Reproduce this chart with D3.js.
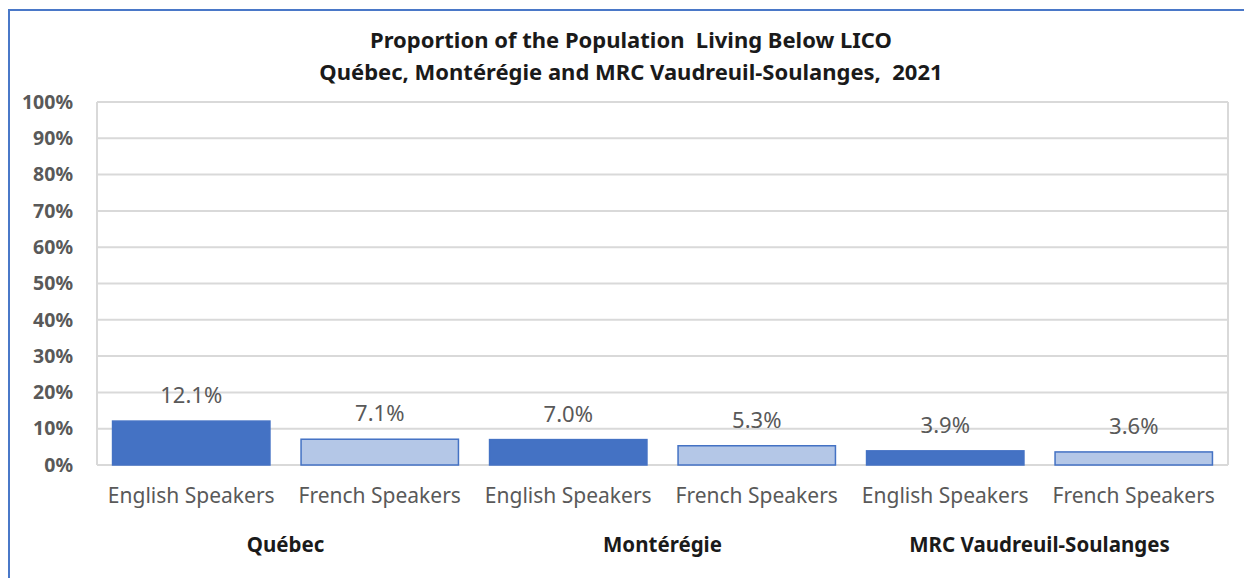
<!DOCTYPE html>
<html>
<head>
<meta charset="utf-8">
<script src="https://cdn.jsdelivr.net/npm/d3@7"></script>
<style>
    body { margin: 0; background: #fff; }
    text { white-space: pre; }
</style>
</head>
<body>
<div id="chart"></div>
<script>
const categories = ["English Speakers", "French Speakers", "English Speakers", "French Speakers", "English Speakers", "French Speakers"]
const values = [12.1, 7.1, 7.0, 5.3, 3.9, 3.6]
const groups = ["Québec", "Montérégie", "MRC Vaudreuil-Soulanges"]
const yTicks = [0, 10, 20, 30, 40, 50, 60, 70, 80, 90, 100]
const titleLines = ["Proportion of the Population  Living Below LICO", "Québec, Montérégie and MRC Vaudreuil-Soulanges,  2021"]

draw_chart()

function draw_chart() {
    const config = {
        width: 1244,
        height: 578,
        margin: { top: 102, left: 97, bottom: 113, right: 16 },
        dark: "#4472c4",
        light: "#b4c7e7",
        grid: "#d9d9d9",
        font: "'Noto Sans', 'Open Sans', sans-serif"
    }
    const svg = d3.select("#chart")
        .append("svg")
        .attr("width", config.width)
        .attr("height", config.height)
        .style("font-family", config.font)

    // outer frame
    svg.append("rect")
        .attr("x", 9).attr("y", 10)
        .attr("width", 1260).attr("height", 600)
        .attr("fill", "none")
        .attr("stroke", "#4a78c8")
        .attr("stroke-width", 2)

    const x0 = config.margin.left
    const x1 = config.width - config.margin.right
    const y0 = config.height - config.margin.bottom
    const y1 = config.margin.top

    const scale_x = d3.scaleBand()
        .domain(d3.range(categories.length))
        .range([x0, x1])
    const scale_y = d3.scaleLinear()
        .domain([0, 100])
        .range([y0, y1])
    const scale_group = d3.scaleBand()
        .domain(d3.range(groups.length))
        .range([x0, x1])

    // grid
    svg.append("g")
        .selectAll("line")
        .data(yTicks)
        .join("line")
        .attr("x1", x0).attr("x2", x1)
        .attr("y1", d => scale_y(d)).attr("y2", d => scale_y(d))
        .attr("stroke", config.grid)
        .attr("stroke-width", 2)
    svg.append("g")
        .selectAll("line")
        .data([x0, x1])
        .join("line")
        .attr("x1", d => d).attr("x2", d => d)
        .attr("y1", y0).attr("y2", y1)
        .attr("stroke", config.grid)
        .attr("stroke-width", 2)

    // y axis
    const axis_y = d3.axisLeft(scale_y)
        .tickValues(yTicks)
        .tickFormat(d => d + "%")
        .tickSize(0)
        .tickPadding(0)
    const g_axisY = svg.append("g")
        .attr("transform", `translate(${73}, 0)`)
        .call(axis_y)
    g_axisY.select(".domain").remove()
    g_axisY.selectAll("text")
        .attr("font-family", config.font)
        .attr("font-size", 19.5)
        .attr("font-weight", "bold")
        .attr("fill", "#595959")

    // bars
    const barW = scale_x.bandwidth() * 0.835
    svg.append("g")
        .selectAll("rect")
        .data(values)
        .join("rect")
        .attr("x", (d, i) => scale_x(i) + (scale_x.bandwidth() - barW) / 2)
        .attr("y", d => scale_y(d))
        .attr("width", barW)
        .attr("height", d => y0 - scale_y(d))
        .attr("fill", (d, i) => i % 2 == 0 ? config.dark : config.light)
        .attr("stroke", config.dark)
        .attr("stroke-width", 1.5)

    // value labels
    svg.append("g")
        .selectAll("text")
        .data(values)
        .join("text")
        .attr("x", (d, i) => scale_x(i) + scale_x.bandwidth() / 2)
        .attr("y", d => scale_y(d) - 18)
        .attr("text-anchor", "middle")
        .attr("font-size", 22)
        .attr("fill", "#595959")
        .text(d => d.toFixed(1) + "%")

    // category labels
    svg.append("g")
        .selectAll("text")
        .data(categories)
        .join("text")
        .attr("x", (d, i) => scale_x(i) + scale_x.bandwidth() / 2)
        .attr("y", 503)
        .attr("text-anchor", "middle")
        .attr("font-size", 21)
        .attr("fill", "#595959")
        .text(d => d)

    // group labels
    svg.append("g")
        .selectAll("text")
        .data(groups)
        .join("text")
        .attr("x", (d, i) => scale_group(i) + scale_group.bandwidth() / 2)
        .attr("y", 552)
        .attr("text-anchor", "middle")
        .attr("font-size", 20.5)
        .attr("font-weight", "bold")
        .attr("fill", "#1a1a1a")
        .text(d => d)

    // title
    svg.append("g")
        .selectAll("text")
        .data(titleLines)
        .join("text")
        .attr("x", 631)
        .attr("y", (d, i) => 48 + i * 32)
        .attr("text-anchor", "middle")
        .attr("font-size", 22)
        .attr("font-weight", "bold")
        .attr("fill", "#1a1a1a")
        .text(d => d)
}
</script>
</body>
</html>
